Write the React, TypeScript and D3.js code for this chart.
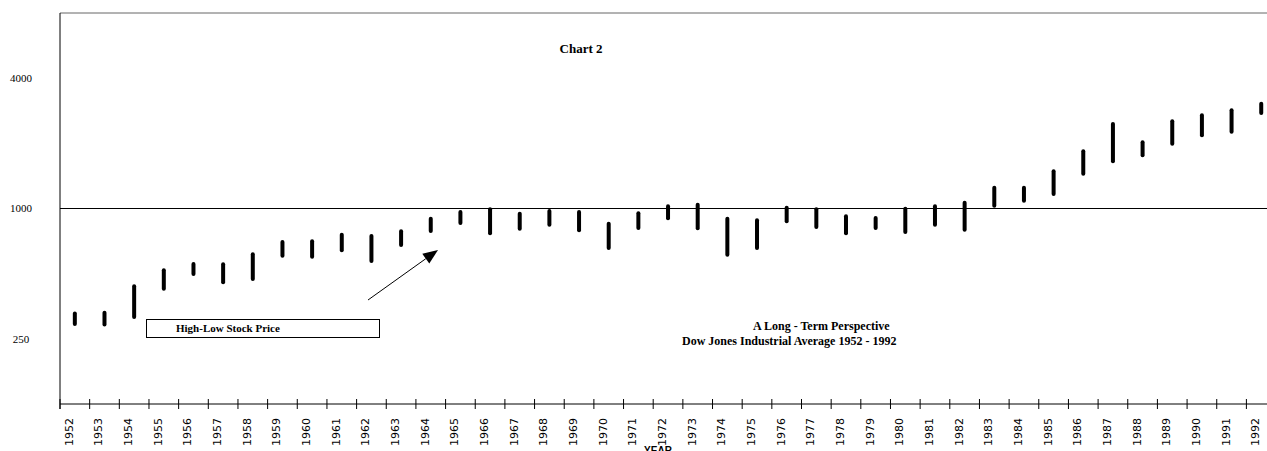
import * as d3 from "d3";
import React from "react";

// Dow Jones Industrial Average, yearly high / low
const years = [
  1952, 1953, 1954, 1955, 1956, 1957, 1958, 1959, 1960, 1961, 1962, 1963, 1964, 1965,
  1966, 1967, 1968, 1969, 1970, 1971, 1972, 1973, 1974, 1975, 1976, 1977, 1978, 1979,
  1980, 1981, 1982, 1983, 1984, 1985, 1986, 1987, 1988, 1989, 1990, 1991, 1992,
];
const highs = [
  327, 330, 437, 518, 554, 552, 614, 700, 705, 757, 746, 785, 897, 963, 992, 946, 974,
  963, 851, 950, 1024, 1041, 897, 882, 1009, 992, 920, 904, 998, 1024, 1064, 1248, 1248,
  1485, 1838, 2458, 2022, 2529, 2695, 2841, 3049,
];
const lows = [
  293, 291, 315, 426, 498, 456, 472, 605, 599, 641, 572, 678, 787, 857, 768, 807, 842,
  793, 657, 813, 901, 810, 612, 657, 873, 821, 768, 813, 779, 842, 798, 1030, 1087, 1167,
  1448, 1652, 1761, 1993, 2179, 2264, 2761,
];
const yTicks = [250, 1000, 4000];
const yDomain: [number, number] = [125, 8000];

const W = 1267;
const H = 451;
const margin = { left: 60, top: 13, bottom: 47 };
const band = 29.66;

export default function App() {
  const plotBottom = H - margin.bottom;
  const x = d3
    .scaleBand<number>()
    .domain(years)
    .range([margin.left, margin.left + band * years.length]);
  const y = d3.scaleLog().domain(yDomain).range([plotBottom, margin.top]);

  const rows = years.map((yr, i) => ({ year: yr, high: highs[i], low: lows[i] }));
  const cx = (yr: number) => (x(yr) as number) + x.bandwidth() / 2;

  // arrow annotation
  const tail = [368, 300];
  const tip = [438, 250];
  const ang = Math.atan2(tip[1] - tail[1], tip[0] - tail[0]);
  const hl = 15;
  const hw = 6;
  const bx = tip[0] - hl * Math.cos(ang);
  const by = tip[1] - hl * Math.sin(ang);
  const head = [
    [tip[0], tip[1]],
    [bx + hw * Math.sin(ang), by - hw * Math.cos(ang)],
    [bx - hw * Math.sin(ang), by + hw * Math.cos(ang)],
  ];

  const serif = "'Liberation Serif', 'Times New Roman', serif";

  return (
    <div style={{ position: "absolute", left: 0, top: 0 }}>
      <svg width={W} height={H} style={{ display: "block", background: "#fff" }}>
        {/* frame */}
        <line x1={margin.left} x2={W} y1={margin.top} y2={margin.top} stroke="#666" strokeWidth={1} />
        <line x1={margin.left} x2={margin.left} y1={margin.top} y2={plotBottom + 5} stroke="#000" strokeWidth={1} />
        <line x1={margin.left} x2={W} y1={y(1000)} y2={y(1000)} stroke="#000" strokeWidth={1} />

        {/* x axis */}
        <line x1={margin.left} x2={W} y1={plotBottom} y2={plotBottom} stroke="#000" strokeWidth={1} />
        {years.map((yr) => (
          <line
            key={"t" + yr}
            x1={x(yr)}
            x2={x(yr)}
            y1={plotBottom - 5}
            y2={plotBottom + 5}
            stroke="#000"
            strokeWidth={1}
          />
        ))}
        {years.map((yr) => (
          <text
            key={"l" + yr}
            transform={`translate(${cx(yr) - 2},${plotBottom + 14}) rotate(-90)`}
            textAnchor="end"
            fontFamily="'Liberation Sans Narrow', 'Arial Narrow', 'DejaVu Sans Condensed', sans-serif"
            fontSize={11}
            textLength={28}
            lengthAdjust="spacingAndGlyphs"
            fill="#000"
          >
            {yr}
          </text>
        ))}
        <text x={658} y={454} textAnchor="middle" fontFamily="'Liberation Sans', Arial, sans-serif" fontWeight="bold" fontSize={10}>
          YEAR
        </text>

        {/* y labels */}
        {yTicks.map((t) => (
          <text key={"y" + t} x={21} y={y(t)} dy="0.35em" textAnchor="middle" fontFamily={serif} fontSize={11}>
            {t}
          </text>
        ))}

        {/* high-low bars */}
        {rows.map((d) => (
          <line
            key={"b" + d.year}
            x1={cx(d.year)}
            x2={cx(d.year)}
            y1={y(d.high)}
            y2={y(d.low)}
            stroke="#000"
            strokeWidth={4}
            strokeLinecap="round"
          />
        ))}

        {/* annotations */}
        <text x={581} y={53} textAnchor="middle" fontFamily={serif} fontWeight="bold" fontSize={13}>
          Chart 2
        </text>
        <rect x={146.5} y={319.5} width={233} height={18} fill="none" stroke="#000" strokeWidth={1} />
        <text x={176} y={332} fontFamily={serif} fontWeight="bold" fontSize={11}>
          High-Low Stock Price
        </text>
        <line x1={tail[0]} y1={tail[1]} x2={bx} y2={by} stroke="#000" strokeWidth={1} />
        <polygon points={head.map((p) => p.join(",")).join(" ")} fill="#000" />
        <text x={753} y={330} fontFamily={serif} fontWeight="bold" fontSize={12}>
          A Long - Term Perspective
        </text>
        <text x={682} y={345} fontFamily={serif} fontWeight="bold" fontSize={12}>
          Dow Jones Industrial Average 1952 - 1992
        </text>
      </svg>
    </div>
  );
}
